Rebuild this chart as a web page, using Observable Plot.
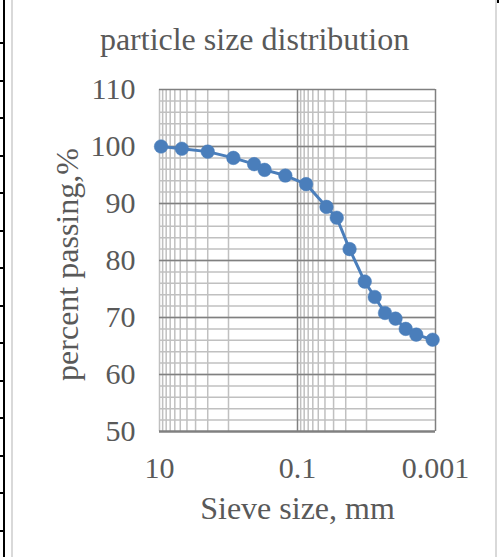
<!DOCTYPE html>
<html>
<head>
<meta charset="utf-8">
<script src="https://cdn.jsdelivr.net/npm/d3@7"></script>
<script src="https://cdn.jsdelivr.net/npm/@observablehq/plot@0.6"></script>
<style>
  html, body { margin: 0; padding: 0; background: #fff; }
  #wrap { position: relative; width: 499px; height: 557px; overflow: hidden; background: #fff; }
  #chart { position: absolute; left: 0; top: 0; }
  .deco { position: absolute; }
</style>
</head>
<body>
<div id="wrap"><div id="chart"></div></div>
<script>
// ---- data ----
const sieveSize = [9.5, 4.75, 2.0, 0.85, 0.425, 0.3, 0.15, 0.075, 0.038, 0.027, 0.0176, 0.0106, 0.0076, 0.0054, 0.0038, 0.0027, 0.0019, 0.0011];
const percentPassing = [100, 99.6, 99.1, 98.0, 96.9, 95.9, 94.9, 93.4, 89.4, 87.5, 82.0, 76.3, 73.6, 70.8, 69.8, 68.0, 67.0, 66.1];
const xTicks = [10, 0.1, 0.001];
const yTicks = [50, 60, 70, 80, 90, 100, 110];
const xMinorGrid = [9, 8, 7, 6, 5, 4, 3, 2, 1, 0.09, 0.08, 0.07, 0.06, 0.05, 0.04, 0.03, 0.02, 0.01];
const yMinorGrid = d3.range(52, 110, 2);
const titleText = "particle size distribution";
const xTitle = "Sieve size, mm";
const yTitle = "percent passing,%";

const data = sieveSize.map((s, i) => ({size: s, pass: percentPassing[i]}));

const font = "'Liberation Serif', 'Times New Roman', 'DejaVu Serif', serif";
const textColor = "#595959";
const light = "#c0c0c0";
const dark = "#808080";
const blue = "#4a7ebb";

const chart = Plot.plot({
  width: 499,
  height: 557,
  marginLeft: 159,
  marginRight: 64,
  marginTop: 89,
  marginBottom: 126,
  style: {fontFamily: font, color: textColor, background: "transparent"},
  x: {type: "log", domain: [10, 0.001]},
  y: {domain: [50, 110]},
  marks: [
    Plot.ruleY(yMinorGrid, {stroke: light, strokeWidth: 1.5}),
    Plot.ruleX(xMinorGrid, {stroke: light, strokeWidth: 1.5}),
    Plot.ruleX([10], {stroke: light, strokeWidth: 1.5}),
    Plot.ruleY(yTicks.filter(d => d !== 50), {stroke: dark, strokeWidth: 1.5}),
    Plot.ruleX([0.1, 0.001], {stroke: dark, strokeWidth: 1.5}),
    Plot.ruleY([50], {stroke: dark, strokeWidth: 2.6}),
    Plot.line(data, {x: "size", y: "pass", stroke: blue, strokeWidth: 3}),
    Plot.dot(data, {x: "size", y: "pass", r: 6.8, fill: blue, stroke: blue, strokeWidth: 0.5}),
    Plot.axisX(xTicks, {tickSize: 0, tickPadding: 25, fontSize: 30, fill: textColor, tickFormat: d => String(d), label: null}),
    Plot.axisY(yTicks, {tickSize: 0, tickPadding: 24, fontSize: 30, fill: textColor, label: null}),
    Plot.text([titleText], {frameAnchor: "top", textAnchor: "middle", dx: -43, dy: -50, fontSize: 32, fill: textColor, lineAnchor: "middle"}),
    Plot.text([xTitle], {frameAnchor: "bottom", textAnchor: "middle", dy: 77, fontSize: 32, fill: textColor, lineAnchor: "middle"}),
    Plot.text([yTitle], {frameAnchor: "left", textAnchor: "middle", dx: -92, dy: 4, rotate: -90, fontSize: 32, fill: textColor, lineAnchor: "middle"})
  ]
});
document.getElementById("chart").appendChild(chart);

// ---- decoration: spreadsheet frame around the chart ----
const wrap = document.getElementById("wrap");
function box(l, t, w, h, c) {
  const d = document.createElement("div");
  d.className = "deco";
  Object.assign(d.style, {left: l + "px", top: t + "px", width: w + "px", height: h + "px", background: c});
  wrap.appendChild(d);
}
box(11, 0, 2, 557, "#d9d9d9");
box(495, 0, 2, 557, "#d9d9d9");
box(3, 0, 2, 557, "#000");
box(497, 0, 2, 3, "#000");
const rowLines = [43, 80.5, 118, 155.5, 193, 230.5, 268, 305.5, 343, 380.5, 418, 455.5, 493, 530.5];
rowLines.forEach(y => box(0, Math.round(y) - 1, 4, 2, "#000"));
</script>
</body>
</html>
